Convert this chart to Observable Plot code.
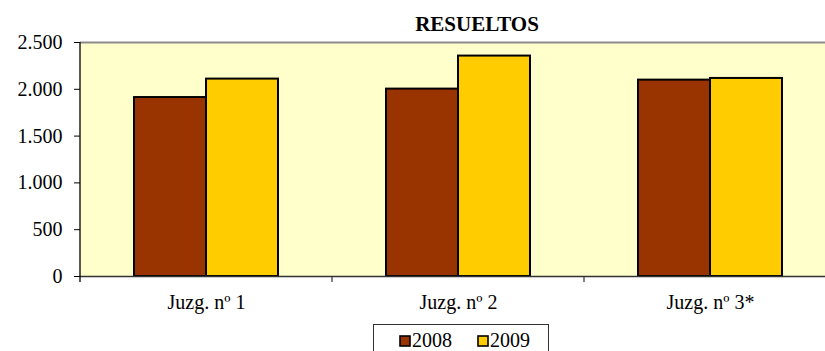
<!DOCTYPE html>
<html><head><meta charset="utf-8">
<script src="https://cdn.jsdelivr.net/npm/d3@7"></script>
<script src="https://cdn.jsdelivr.net/npm/@observablehq/plot@0.6"></script>
<style>
html,body{margin:0;padding:0;overflow:hidden;background:#fff;}
#wrap{position:relative;width:825px;height:351px;overflow:hidden;}
#wrap svg{max-width:none !important;height:351px !important;}
</style></head>
<body><div id="wrap"></div>
<script>
const titleText = "RESUELTOS";
const categories = ["Juzg. nº 1", "Juzg. nº 2", "Juzg. nº 3*"];
const years = ["2008", "2009"];
const values2008 = [1912, 2002, 2098];
const values2009 = [2109, 2355, 2116];
const yTicks = [0, 500, 1000, 1500, 2000, 2500];
const colors = ["#993300", "#FFCC00"];

const data = categories.flatMap((c, i) => [
  {juzgado: c, year: years[0], value: values2008[i]},
  {juzgado: c, year: years[1], value: values2009[i]}
]);
const fmt = d3.formatLocale({decimal: ",", thousands: ".", grouping: [3], currency: ["", "€"]}).format(",d");
const FONT = "'Liberation Serif', 'Times New Roman', serif";

const plot = Plot.plot({
  width: 837, height: 351,
  marginLeft: 79, marginRight: 0, marginTop: 42, marginBottom: 75,
  style: {fontFamily: FONT, fontSize: "20px", color: "#000", background: "transparent"},
  fx: {domain: categories, padding: 0, label: null},
  x: {domain: years, paddingInner: 0, paddingOuter: 0.742, axis: null},
  y: {domain: [0, 2500], label: null},
  color: {domain: years, range: colors},
  marks: [
    Plot.ruleY([2500], {stroke: "#8c8c8c", strokeWidth: 2}),
    Plot.barY(data, {fx: "juzgado", x: "year", y: "value", fill: "year", stroke: "#000", strokeWidth: 2}),
    Plot.ruleY([0], {stroke: "#333", strokeWidth: 1.5}),
    Plot.axisY({ticks: yTicks, tickFormat: fmt, tickSize: 6, tickPadding: 12, label: null, fontSize: 20, fontFamily: FONT, stroke: "#000"}),
    Plot.axisFx({anchor: "bottom", tickSize: 0, tickPadding: 18, label: null, fontSize: 20, fontFamily: FONT})
  ]
});
document.getElementById("wrap").appendChild(plot);

const svg = d3.select(plot);
const fx = plot.scale("fx"), y = plot.scale("y"), color = plot.scale("color");
const y0 = y.apply(0), yTop = y.apply(2500);
const left = fx.apply(categories[0]), right = fx.range[1];
// plot-area background, behind everything
svg.insert("rect", ":first-child").attr("x", left).attr("y", yTop).attr("width", right - left)
  .attr("height", y0 - yTop).attr("fill", "#FFFFCC");
const g = svg.append("g").attr("text-anchor", "start");
// y axis line
g.append("line").attr("x1", left).attr("x2", left).attr("y1", yTop).attr("y2", y0 + 6)
  .attr("stroke", "#000").attr("stroke-width", 1.3);
// category boundary ticks
const bounds = categories.slice(1).map(c => fx.apply(c)).concat([right]);
bounds.forEach(b => g.append("line").attr("x1", b).attr("x2", b).attr("y1", y0).attr("y2", y0 + 6)
  .attr("stroke", "#333").attr("stroke-width", 1.2));
// title
g.append("text").attr("x", 477).attr("y", 31).attr("text-anchor", "middle")
  .attr("font-family", FONT).attr("font-size", 21).attr("font-weight", "bold").attr("fill", "#000")
  .text(titleText);
// legend
g.append("rect").attr("x", 373.5).attr("y", 324.5).attr("width", 175).attr("height", 40)
  .attr("fill", "#fff").attr("stroke", "#333").attr("stroke-width", 1);
const lx = [400, 478];
years.forEach((yr, i) => {
  g.append("rect").attr("x", lx[i]).attr("y", 336).attr("width", 10).attr("height", 10)
    .attr("fill", color.apply(yr)).attr("stroke", "#000").attr("stroke-width", 1.6);
  g.append("text").attr("x", lx[i] + 12).attr("y", 347).attr("text-anchor", "start").attr("font-family", FONT)
    .attr("font-size", 20).attr("fill", "#000").text(yr);
});
</script>
</body></html>
